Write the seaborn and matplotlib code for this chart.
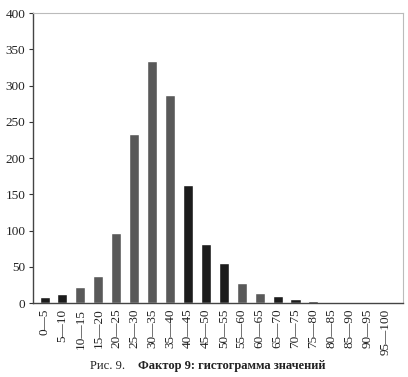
import matplotlib
matplotlib.use("Agg")
import matplotlib.pyplot as plt
import seaborn as sns
import pandas as pd

categories = ["0—5", "5—10", "10—15", "15—20", "20—25", "25—30", "30—35", "35—40",
              "40—45", "45—50", "50—55", "55—60", "60—65", "65—70", "70—75", "75—80",
              "80—85", "85—90", "90—95", "95—100"]
values = [8, 12, 22, 38, 97, 234, 334, 287, 163, 81, 56, 28, 14, 10, 5, 3, 0, 0, 0, 0]
shade = ["dark", "dark", "gray", "gray", "gray", "gray", "gray", "gray",
         "dark", "dark", "dark", "gray", "gray", "dark", "dark", "dark",
         "dark", "dark", "dark", "dark"]
yticks = [0, 50, 100, 150, 200, 250, 300, 350, 400]
caption_plain = "Рис. 9."
caption_bold = "Фактор 9: гистограмма значений"

sns.set_style("white")
plt.rcParams['font.family'] = ['Liberation Serif', 'DejaVu Serif']

df = pd.DataFrame({"cat": categories, "val": values, "shade": shade})

fig = plt.figure(figsize=(4.08, 3.77), dpi=100)
ax = fig.add_axes([0.081, 0.196, 0.906, 0.769])
sns.barplot(data=df, x="cat", y="val", hue="shade", dodge=False, width=0.56,
            palette={"dark": "#1c1c1c", "gray": "#595959"}, legend=False,
            saturation=1, ax=ax, order=categories)

ax.set_xlim(-0.64, 19.98)
ax.set_ylim(0, 400)
ax.set_yticks(yticks)
ax.set_yticklabels([str(v) for v in yticks], fontsize=9.5, color="#222222")
ax.set_xticks(range(len(categories)))
ax.set_xticklabels(categories, rotation=90, fontsize=9.5, color="#222222")
ax.set_xlabel("")
ax.set_ylabel("")
ax.tick_params(axis="y", direction="out", length=3, width=0.8, color="#333333", left=True, pad=2.5)
ax.tick_params(axis="x", length=0, pad=4)

for s in ["left", "bottom"]:
    ax.spines[s].set_color("#444444")
    ax.spines[s].set_linewidth(1.0)
ax.spines["top"].set_color("#bbbbbb")
ax.spines["top"].set_linestyle((0, (1, 1)))
ax.spines["top"].set_linewidth(0.8)
ax.spines["right"].set_color("#bbbbbb")
ax.spines["right"].set_linewidth(0.8)

fig.text(0.22, 0.03, caption_plain, fontsize=9, ha="left", va="center", color="#222222")
fig.text(0.338, 0.03, caption_bold, fontsize=9, fontweight="bold", ha="left", va="center", color="#222222")

fig.savefig("out.png", dpi=100, facecolor="white")
